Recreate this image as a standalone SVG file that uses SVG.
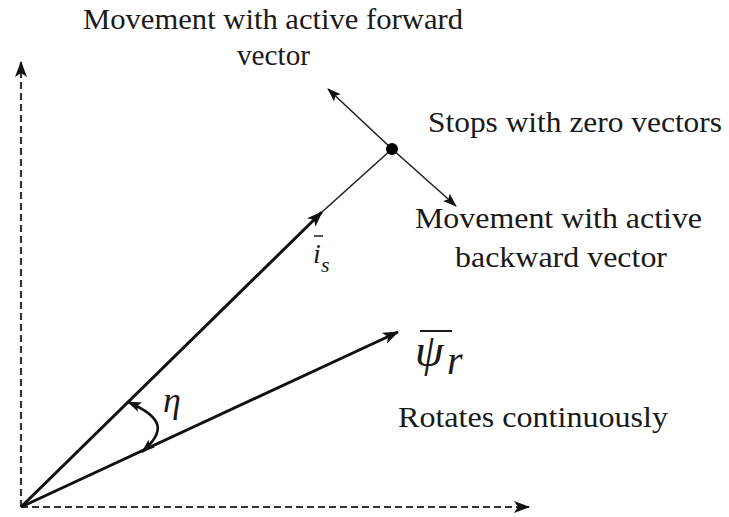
<svg xmlns="http://www.w3.org/2000/svg" width="729" height="517" viewBox="0 0 729 517">
<style>
.lbl{font-family:"Liberation Serif","Times New Roman",serif;font-size:30px;fill:#1a1a1a}
.math{font-family:"Liberation Serif","Times New Roman",serif;font-style:italic;fill:#1a1a1a}
.axis{stroke:#333;stroke-width:2.2;stroke-dasharray:7 4;fill:none}
.vec{stroke:#111;stroke-width:3;fill:none}
.thin{stroke:#222;stroke-width:1.6;fill:none}
</style>
<defs>
<marker id="ah" markerUnits="userSpaceOnUse" viewBox="0 0 16 12" refX="15" refY="6" markerWidth="16" markerHeight="12" orient="auto">
<path d="M0,0 L16,6 L0,12 L4,6 Z" fill="#111"/>
</marker>
<marker id="ahs" markerUnits="userSpaceOnUse" viewBox="0 0 14 10" refX="13" refY="5" markerWidth="14" markerHeight="10" orient="auto">
<path d="M0,0 L14,5 L0,10 L3,5 Z" fill="#111"/>
</marker>
<marker id="ahStart" markerUnits="userSpaceOnUse" viewBox="0 0 14 10" refX="13" refY="5" markerWidth="14" markerHeight="10" orient="auto-start-reverse">
<path d="M0,0 L14,5 L0,10 L3,5 Z" fill="#111"/>
</marker>
</defs>
<g id="connectors">
<line id="y-axis" class="axis" x1="21" y1="507" x2="21" y2="62" marker-end="url(#ah)"/>
<line id="x-axis" class="axis" x1="21" y1="507" x2="529" y2="507" marker-end="url(#ah)"/>
<line id="is-vector" class="vec" x1="21" y1="507" x2="322" y2="212" marker-end="url(#ah)"/>
<line id="is-ext" class="thin" x1="322" y1="212" x2="392" y2="149"/>
<line id="psi-vector" class="vec" x1="21" y1="507" x2="398" y2="332" marker-end="url(#ah)"/>
<line id="fwd" class="thin" x1="392" y1="149" x2="328" y2="89" marker-end="url(#ahs)"/>
<line id="bwd" class="thin" x1="392" y1="149" x2="456" y2="206" marker-end="url(#ahs)"/>
<path id="eta-arc" d="M128,402 C165,418 165,432 142,452" stroke="#111" stroke-width="2.6" fill="none" marker-start="url(#ahStart)" marker-end="url(#ahs)"/>
</g>
<g id="dot"><circle cx="392" cy="149" r="6" fill="#000"/></g>
<g id="label-forward">
<text class="lbl" x="83" y="29" textLength="380" lengthAdjust="spacingAndGlyphs">Movement with active forward</text>
<text class="lbl" x="237" y="65" textLength="73" lengthAdjust="spacingAndGlyphs">vector</text>
</g>
<g id="label-stops"><text class="lbl" x="428" y="132" textLength="294" lengthAdjust="spacingAndGlyphs">Stops with zero vectors</text></g>
<g id="label-backward">
<text class="lbl" x="415" y="228" textLength="287" lengthAdjust="spacingAndGlyphs">Movement with active</text>
<text class="lbl" x="455" y="267" textLength="212" lengthAdjust="spacingAndGlyphs">backward vector</text>
</g>
<g id="label-rotates"><text class="lbl" x="398" y="427" textLength="270" lengthAdjust="spacingAndGlyphs">Rotates continuously</text></g>
<g id="label-is">
<text class="math" x="313" y="263" font-size="28">i</text>
<line x1="314" y1="236" x2="323" y2="236" stroke="#1a1a1a" stroke-width="1.5"/>
<text class="math" x="321" y="272" font-size="22">s</text>
</g>
<g id="label-psi">
<text class="math" x="415" y="366" font-size="46">ψ</text>
<text class="math" x="447" y="374" font-size="40">r</text>
<line x1="420" y1="331" x2="452" y2="331" stroke="#1a1a1a" stroke-width="2"/>
</g>
<g id="label-eta"><text class="math" x="163" y="412" font-size="36">η</text></g>
</svg>
